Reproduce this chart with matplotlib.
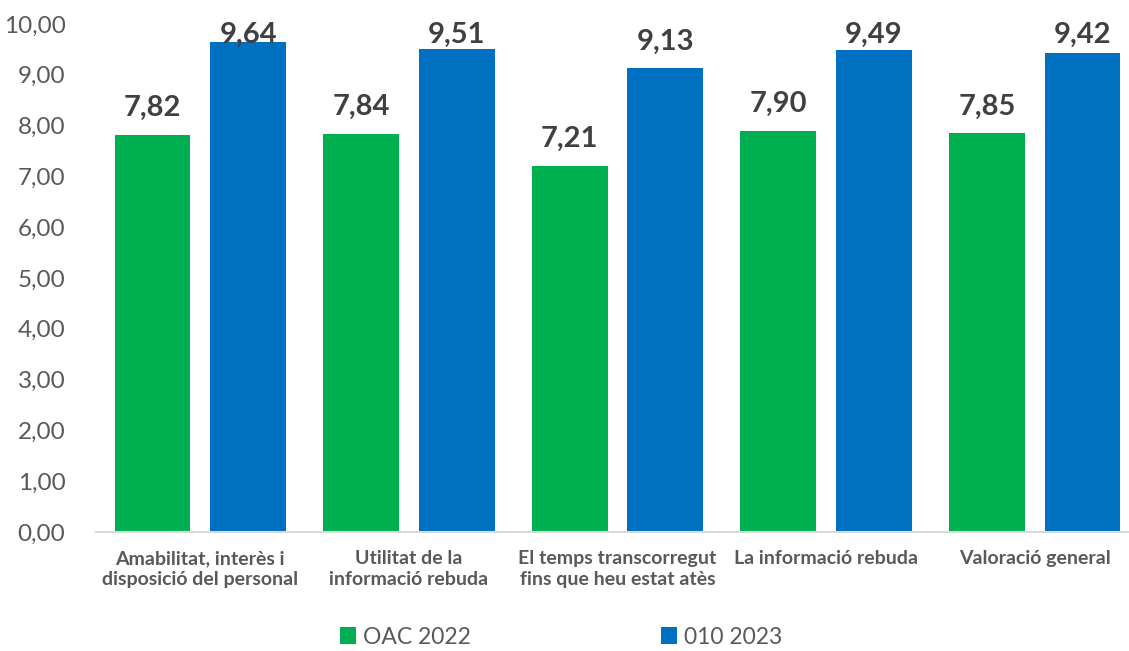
import matplotlib
matplotlib.use("Agg")
import matplotlib.pyplot as plt
import numpy as np

plt.rcParams['font.family'] = ['Lato', 'DejaVu Sans']

categories = [
    "Amabilitat, interès i\ndisposició del personal",
    "Utilitat de la\ninformació rebuda",
    "El temps transcorregut\nfins que heu estat atès",
    "La informació rebuda",
    "Valoració general",
]
series_names = ["OAC 2022", "010 2023"]
oac_2022 = [7.82, 7.84, 7.21, 7.90, 7.85]
o010_2023 = [9.64, 9.51, 9.13, 9.49, 9.42]
yticks = [0, 1, 2, 3, 4, 5, 6, 7, 8, 9, 10]

colors = ["#00B050", "#0070C0"]
text_dark = "#404040"
text_gray = "#595959"

W, H = 1129, 651
fig = plt.figure(figsize=(W / 100, H / 100), dpi=100)
ax = fig.add_axes([96 / W, 119 / H, 1043 / W, 508 / H])

x = np.arange(len(categories))
bw = 0.364
off = 0.229
series = [oac_2022, o010_2023]
for k, (vals, col, name) in enumerate(zip(series, colors, series_names)):
    xs = x + (off if k else -off)
    ax.bar(xs, vals, width=bw, color=col, label=name, zorder=2)
    for xi, v in zip(xs, vals):
        ylab = min(v + 0.37, 9.63)
        ax.text(xi, ylab, f"{v:.2f}".replace(".", ","), ha="center",
                va="baseline", fontsize=21, fontweight="bold", color=text_dark)

ax.set_xlim(-0.5, len(categories) - 0.5)
ax.set_ylim(0, 10)
ax.set_yticks(yticks)
ax.set_yticklabels([f"{t:.2f}".replace(".", ",") for t in yticks],
                   fontsize=17.5, color=text_gray)
ax.set_xticks(x)
ax.set_xticklabels(categories, fontsize=14, fontweight="bold", color=text_gray,
                   linespacing=1.3)
ax.tick_params(axis="y", length=0, pad=22)
ax.tick_params(axis="x", length=0, pad=13)
for s in ["top", "right", "left"]:
    ax.spines[s].set_visible(False)
ax.spines["bottom"].set_color("#D9D9D9")
ax.spines["bottom"].set_linewidth(1.5)

handles, labels = ax.get_legend_handles_labels()
fig.legend(handles, labels, loc="center", bbox_to_anchor=(561 / W, 14 / H),
           ncol=2, frameon=False, fontsize=16.5, labelcolor=text_gray,
           handlelength=0.7, handleheight=0.7, handletextpad=0.3,
           columnspacing=8.3)

fig.savefig("out.png", dpi=100)
